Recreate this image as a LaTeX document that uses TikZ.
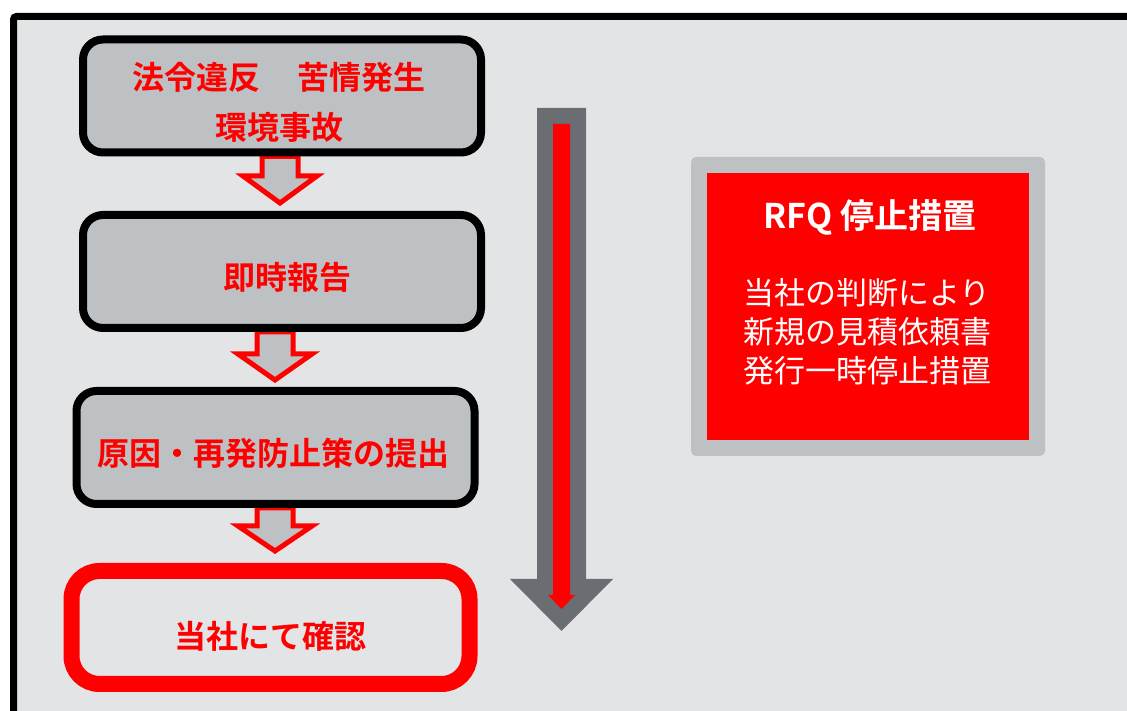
\documentclass[tikz,border=0pt]{standalone}
\usepackage{fontspec}
\newfontfamily\jp{Noto Sans CJK JP}
\newfontfamily\jpb{Noto Sans CJK JP Bold}
\usetikzlibrary{calc}
\definecolor{bgc}{HTML}{E3E4E6}
\definecolor{boxc}{HTML}{BEC1C4}
\definecolor{darkg}{HTML}{6A6E72}
\definecolor{redc}{HTML}{FF0000}
\tikzset{
  flowbox/.style={draw=black, line width=8pt, fill=boxc, rounded corners=20pt,
    minimum width=398pt, minimum height=113pt, inner sep=0pt},
  finalbox/.style={flowbox, draw=redc, line width=16pt, fill=bgc, rounded corners=28pt},
  boxtext/.style={inner sep=0pt, align=center, text=redc, font=\jpb\fontsize{32}{50}\selectfont},
  blkarr/.style={draw=redc, line width=5pt, fill=boxc, line join=miter},
}
\newcommand\blkarrow[5]{%
  \draw[blkarr] let \p1=(#1.south), \p2=(#2.north) in
    (#3-18,\y1) -- (#3-18,\y2+#4+#5) -- (#3-37,\y2+#4+#5) -- (#3,\y2+#4)
    -- (#3+37,\y2+#4+#5) -- (#3+18,\y2+#4+#5) -- (#3+18,\y1) -- cycle;}
\begin{document}
\begin{tikzpicture}[x=1pt,y=1pt]
\useasboundingbox (0,0) rectangle (1127,711);
\fill[white] (0,0) rectangle (1127,711);
% frame
\draw[line width=7pt, fill=bgc, rounded corners=3pt] (13.5,694.5) rectangle (1150,-20);
% box positions (shapes drawn after the arrows)
\path[flowbox, draw=none, fill=none] node (b1) at (282,615) {}
  node (b2) at (282,439.5) {}
  node (b3) at (275.5,263.5) {};
\path[finalbox, draw=none, fill=none] node (b4) at (270.5,83.5) {};
% block arrows
\blkarrow{b1}{b2}{280}{8}{27}
\blkarrow{b2}{b3}{275}{7}{26}
\blkarrow{b3}{b4}{275}{12}{25}
% boxes
\node[flowbox] at (b1) {};
\node[flowbox] at (b2) {};
\node[flowbox] at (b3) {};
\node[finalbox] at (b4) {};
% texts
\node[boxtext] (t1) at ($(b1)+(-3,-6)$) {法令違反\hspace{38pt}苦情発生\\環境事故};
\node[boxtext] (t2) at ($(b2)+(5,-6)$) {即時報告};
\node[boxtext] (t3) at ($(b3)+(-2,-6)$) {原因・再発防止策の提出};
\node[boxtext] (t4) at ($(b4)+(0,-9)$) {当社にて確認};
% big arrow
\coordinate (bigtop) at (561.5,603);
\coordinate (bigtip) at (561.5,80);
\fill[darkg] (537,603) -- (537,132) -- (510,132) -- (bigtip) -- (613,132) -- (586,132) -- (586,603) -- cycle;
\fill[redc] (553,587) -- (553,116) -- (548,116) -- (561.5,102) -- (575,116) -- (570,116) -- (570,587) -- cycle;
% RFQ box
\node[fill=boxc, rounded corners=5pt, minimum width=354pt, minimum height=299pt] (rfqo) at (868,404.5) {};
\node[fill=redc, minimum width=322pt, minimum height=267pt] (rfq) at (rfqo) {};
\node[text=white, font=\jpb\fontsize{34}{35}\selectfont, inner sep=0pt] (rfqt) at (870,494) {RFQ 停止措置};
\node[text=white, font=\jp\fontsize{31}{39}\selectfont, align=center, inner sep=0pt] (rfqb) at (867,379) {当社の判断により\\新規の見積依頼書\\発行一時停止措置};
\end{tikzpicture}
\end{document}
